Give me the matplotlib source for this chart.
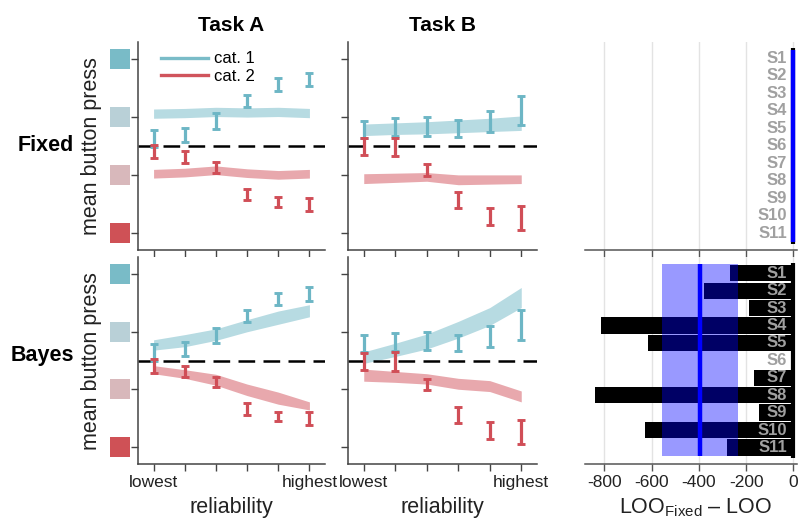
import numpy as np
import matplotlib
matplotlib.use('Agg')
import matplotlib.pyplot as plt
import matplotlib.transforms as mtransforms
from matplotlib.lines import Line2D

plt.rcParams['font.family'] = ['Liberation Sans', 'DejaVu Sans']
plt.rcParams['axes.unicode_minus'] = False
plt.rcParams['mathtext.fontset'] = 'custom'
plt.rcParams['mathtext.rm'] = 'Liberation Sans'
plt.rcParams['mathtext.it'] = 'Liberation Sans:italic'
plt.rcParams['mathtext.bf'] = 'Liberation Sans:bold'

# ---------------- data ----------------
reliability = [1, 2, 3, 4, 5, 6]
reliability_labels = ['lowest', '', '', '', '', 'highest']
press_levels = [1, 2, 3, 4]
criterion = 2.5
tasks = ['Task A', 'Task B']
models = ['Fixed', 'Bayes']

# observed data error bars (low, high) per task & category
taskA_cat1_lo = [2.49, 2.57, 2.80, 3.17, 3.46, 3.54]
taskA_cat1_hi = [2.78, 2.82, 3.07, 3.38, 3.68, 3.77]
taskA_cat2_lo = [2.29, 2.21, 2.04, 1.56, 1.44, 1.37]
taskA_cat2_hi = [2.52, 2.41, 2.22, 1.76, 1.61, 1.60]
taskB_cat1_lo = [2.64, 2.67, 2.68, 2.66, 2.74, 2.86]
taskB_cat1_hi = [2.94, 2.98, 3.00, 2.95, 3.10, 3.37]
taskB_cat2_lo = [2.34, 2.32, 1.98, 1.42, 1.13, 1.04]
taskB_cat2_hi = [2.63, 2.64, 2.18, 1.70, 1.43, 1.46]

# model fit bands (low, high)
fixedA_cat1_lo = [2.98, 2.99, 3.01, 3.00, 3.01, 2.99]
fixedA_cat1_hi = [3.14, 3.15, 3.17, 3.16, 3.17, 3.15]
fixedA_cat2_lo = [1.945, 1.965, 2.005, 1.955, 1.925, 1.945]
fixedA_cat2_hi = [2.095, 2.115, 2.155, 2.105, 2.075, 2.095]
fixedB_cat1_lo = [2.68, 2.70, 2.71, 2.73, 2.75, 2.77]
fixedB_cat1_hi = [2.88, 2.90, 2.92, 2.95, 2.98, 3.02]
fixedB_cat2_lo = [1.85, 1.87, 1.89, 1.83, 1.84, 1.85]
fixedB_cat2_hi = [2.02, 2.03, 2.04, 2.00, 2.00, 2.00]
bayesA_cat1_lo = [2.68, 2.74, 2.85, 3.00, 3.13, 3.26]
bayesA_cat1_hi = [2.86, 2.95, 3.05, 3.21, 3.36, 3.47]
bayesA_cat2_lo = [2.27, 2.19, 2.07, 1.89, 1.74, 1.64]
bayesA_cat2_hi = [2.41, 2.34, 2.26, 2.09, 1.95, 1.78]
bayesB_cat1_lo = [2.45, 2.57, 2.70, 2.89, 3.11, 3.42]
bayesB_cat1_hi = [2.65, 2.80, 2.96, 3.18, 3.42, 3.77]
bayesB_cat2_lo = [2.14, 2.12, 2.09, 2.00, 1.96, 1.78]
bayesB_cat2_hi = [2.35, 2.31, 2.27, 2.19, 2.15, 1.97]

# model comparison
subjects = ['S1', 'S2', 'S3', 'S4', 'S5', 'S6', 'S7', 'S8', 'S9', 'S10', 'S11']
loo_fixed_vs_fixed = [0, 0, 0, 0, 0, 0, 0, 0, 0, 0, 0]
loo_fixed_vs_bayes = [-268, -378, -188, -815, -615, -3, -166, -840, -146, -628, -281]
fixed_band = [0, 0]
bayes_band = [-555, -235]
loo_ticks = [-800, -600, -400, -200, 0]

# ---------------- style ----------------
teal_err = '#6DB6C5'
red_err = '#D04E57'
teal_band = '#B7DBE2'
red_band = '#E8A8AD'
square_colors = ['#CF5156', '#D8B8BB', '#B9D0D7', '#79BBC7']  # levels 1..4
spine_c = '#444444'

W, H = 798, 522
fig = plt.figure(figsize=(W / 100, H / 100), dpi=100)


def ax_px(x0, x1, y0, y1):
    return fig.add_axes([x0 / W, 1 - y1 / H, (x1 - x0) / W, (y1 - y0) / H])


axes = {
    ('Fixed', 'Task A'): ax_px(138, 325, 42, 250),
    ('Fixed', 'Task B'): ax_px(348, 537, 42, 250),
    ('Bayes', 'Task A'): ax_px(138, 325, 257, 464),
    ('Bayes', 'Task B'): ax_px(348, 537, 257, 464),
}
axR_top = ax_px(585, 797, 42, 250)
axR_bot = ax_px(585, 797, 257, 464)

obs = {
    'Task A': ((taskA_cat1_lo, taskA_cat1_hi), (taskA_cat2_lo, taskA_cat2_hi)),
    'Task B': ((taskB_cat1_lo, taskB_cat1_hi), (taskB_cat2_lo, taskB_cat2_hi)),
}
fits = {
    ('Fixed', 'Task A'): ((fixedA_cat1_lo, fixedA_cat1_hi), (fixedA_cat2_lo, fixedA_cat2_hi)),
    ('Fixed', 'Task B'): ((fixedB_cat1_lo, fixedB_cat1_hi), (fixedB_cat2_lo, fixedB_cat2_hi)),
    ('Bayes', 'Task A'): ((bayesA_cat1_lo, bayesA_cat1_hi), (bayesA_cat2_lo, bayesA_cat2_hi)),
    ('Bayes', 'Task B'): ((bayesB_cat1_lo, bayesB_cat1_hi), (bayesB_cat2_lo, bayesB_cat2_hi)),
}

x = np.array(reliability)
for (model, task), ax in axes.items():
    (f1lo, f1hi), (f2lo, f2hi) = fits[(model, task)]
    ax.fill_between(x, f1lo, f1hi, color=teal_band, lw=0, zorder=1)
    ax.fill_between(x, f2lo, f2hi, color=red_band, lw=0, zorder=1)
    ax.axhline(criterion, color='black', lw=1.8, dashes=(6.67, 3.33), zorder=2)
    for (lo, hi), col in zip(obs[task], (teal_err, red_err)):
        lo = np.array(lo); hi = np.array(hi)
        mid = (lo + hi) / 2
        ax.errorbar(x, mid, yerr=[mid - lo, hi - mid], fmt='none', ecolor=col,
                    elinewidth=2.3, capsize=2.8, capthick=2.1, zorder=3)
    ax.set_xlim(0.5, 6.5)
    ax.set_ylim(0.7, 4.3)
    ax.set_yticks(press_levels)
    ax.set_yticklabels([])
    ax.set_xticks(reliability)
    if model == 'Bayes':
        ax.set_xticklabels(reliability_labels)
        ax.set_xlabel('reliability', fontsize=15.5, color='#222222', labelpad=5)
    else:
        ax.set_xticklabels([])
    for s in ('top', 'right'):
        ax.spines[s].set_visible(False)
    for s in ('left', 'bottom'):
        ax.spines[s].set_color(spine_c)
        ax.spines[s].set_linewidth(1.1)
    ax.tick_params(direction='out', length=5, width=1, color=spine_c,
                   labelsize=12.5, labelcolor='#222222', pad=3)
    if model == 'Fixed':
        ax.set_title(task, fontsize=15, fontweight='bold', pad=8)
    if task == 'Task A':
        trans = mtransforms.blended_transform_factory(ax.transAxes, ax.transData)
        ax.scatter([-0.096] * len(press_levels), press_levels, marker='s', s=205,
                   c=square_colors, transform=trans, clip_on=False, lw=0, zorder=5)

# legend
axA = axes[('Fixed', 'Task A')]
handles = [Line2D([], [], color='#7ABCC8', lw=2.4), Line2D([], [], color='#D0545C', lw=2.4)]
axA.legend(handles, ['cat. 1', 'cat. 2'], loc='upper left', bbox_to_anchor=(0.125, 0.955),
           frameon=False, fontsize=12, handlelength=2.8, handletextpad=0.35,
           borderpad=0, borderaxespad=0, labelspacing=0.15)

# row labels and y labels
for model, yc, ylc in (('Fixed', 146, 146), ('Bayes', 355, 361)):
    fig.text(74 / W, 1 - yc / H, model, ha='right', va='center', fontsize=15.5,
             fontweight='bold')
    fig.text(92 / W, 1 - ylc / H, 'mean button press', rotation=90, ha='center',
             va='center', fontsize=15.5, color='#222222')

# model comparison panels
yy = np.arange(1, len(subjects) + 1)
for ax, vals, band, show_labels in ((axR_top, loo_fixed_vs_fixed, fixed_band, False),
                                    (axR_bot, loo_fixed_vs_bayes, bayes_band, True)):
    ax.set_axisbelow(True)
    ax.grid(axis='x', color='#E3E3E3', lw=1)
    ax.barh(yy, vals, height=0.93, color='black', lw=0, zorder=2)
    ax.plot([0, 0], [0.42, len(subjects) + 0.58], color='black', lw=3, zorder=2,
            solid_capstyle='butt')
    ax.fill_betweenx([0.5, len(subjects) + 0.5], band[0], band[1], color='blue',
                     alpha=0.4, lw=0, zorder=3)
    m = np.mean(vals)
    ax.plot([m, m], [0.5, len(subjects) + 0.5], color='blue', lw=3.2, zorder=4,
            solid_capstyle='butt')
    for yi, s in zip(yy, subjects):
        ax.text(-27, yi, s, ha='right', va='center', fontsize=12, fontweight='bold',
                color='#A0A0A0', zorder=5)
    ax.set_xlim(-882, 15)
    ax.set_ylim(11.95, 0.07)
    ax.set_xticks(loo_ticks)
    ax.set_yticks([])
    for s in ('top', 'right', 'left'):
        ax.spines[s].set_visible(False)
    ax.spines['bottom'].set_color('#555555')
    ax.spines['bottom'].set_linewidth(1.1)
    ax.tick_params(axis='x', direction='out', length=5, width=1, color='#555555',
                   labelsize=12.5, labelcolor='#222222', pad=3)
    if not show_labels:
        ax.set_xticklabels([])

axR_bot.set_xlabel(r'LOO$_{\mathrm{Fixed}}$ – LOO', fontsize=15.5, color='#222222')
axR_bot.xaxis.set_label_coords(0.524, -0.155)
axR_bot.xaxis.get_label().set_va('top')

fig.savefig('out.png', dpi=100)
